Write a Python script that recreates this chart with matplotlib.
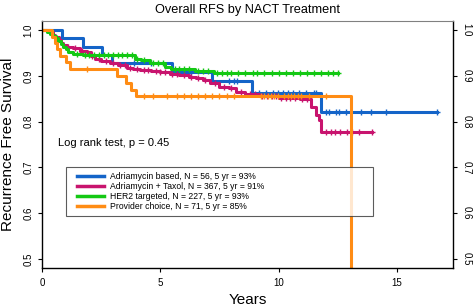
import numpy as np
import matplotlib.pyplot as plt
from matplotlib.legend_handler import HandlerLine2D
from matplotlib.lines import Line2D

plt.rcParams['font.family'] = ['Liberation Sans', 'DejaVu Sans']

# Kaplan-Meier step curves (time in years, survival)
blue_t = [0, 0.85, 1.73, 2.53, 2.95, 5.5, 7.2, 8.89, 11.79, 16.69]
blue_s = [1, 0.982, 0.964, 0.946, 0.928, 0.909, 0.889, 0.862, 0.821, 0.821]
blue_cens = [3.9, 4.6, 6.3, 7.9, 8.1, 8.25, 9.19, 9.47, 9.75, 9.96, 10.17, 10.38,
             10.59, 10.87, 11.15, 11.5, 11.6, 12.0, 12.14, 12.42, 12.56, 12.84,
             13.47, 13.89, 14.53, 16.69]

mag_t = [0, 0.35, 0.45, 0.55, 0.7, 0.8, 0.89, 1.05, 1.3, 1.6, 1.9, 2.05, 2.23, 2.5,
         2.87, 3.2, 3.58, 3.85, 4.13, 4.6, 4.97, 5.4, 5.8, 6.2, 6.5, 6.8, 7.08, 7.5,
         7.92, 8.2, 8.6, 9.19, 10.0, 10.9, 11.37, 11.58, 11.72, 11.79, 13.95]
mag_s = [1, 0.995, 0.99, 0.985, 0.978, 0.972, 0.967, 0.963, 0.96, 0.955, 0.952,
         0.944, 0.937, 0.933, 0.928, 0.923, 0.918, 0.915, 0.913, 0.911, 0.909,
         0.905, 0.902, 0.898, 0.895, 0.89, 0.884, 0.876, 0.873, 0.865, 0.86, 0.855,
         0.852, 0.849, 0.833, 0.815, 0.803, 0.778, 0.778]
mag_cens = [1.1, 1.4, 1.7, 2.1, 2.4, 2.7, 3.0, 3.3, 3.5, 3.7, 4.0, 4.3, 4.5, 4.8,
            5.0, 5.2, 5.5, 5.7, 6.0, 6.3, 6.6, 6.9, 7.3, 7.7, 8.0, 8.4, 8.8, 9.0,
            9.3, 9.5, 9.7, 9.9, 10.1, 10.3, 10.5, 10.7, 11.0, 11.2, 12.0, 12.2,
            12.4, 12.6, 12.9, 13.1, 13.4, 13.95]

grn_t = [0, 0.2, 0.35, 0.47, 0.58, 0.69, 0.8, 0.9, 1.0, 1.11, 1.32, 1.74, 2.57,
         3.92, 4.2, 4.55, 5.18, 5.47, 6.45, 7.29, 12.49]
grn_s = [1, 0.996, 0.992, 0.988, 0.982, 0.977, 0.97, 0.963, 0.958, 0.953, 0.948,
         0.946, 0.945, 0.938, 0.934, 0.929, 0.92, 0.914, 0.911, 0.907, 0.907]
grn_cens = [1.5, 1.8, 2.0, 2.2, 2.4, 2.6, 2.8, 3.0, 3.2, 3.4, 3.6, 3.8, 4.0, 4.3,
            4.7, 4.9, 5.1, 5.6, 5.8, 6.0, 6.2, 6.6, 6.8, 7.0, 7.4, 7.6, 7.8, 8.0,
            8.3, 8.6, 8.9, 9.1, 9.4, 9.7, 10.0, 10.3, 10.6, 10.9, 11.2, 11.5,
            11.8, 12.1, 12.3, 12.49]

org_t = [0, 0.41, 0.55, 0.62, 0.76, 1.0, 1.18, 3.15, 3.57, 3.78, 3.99, 13.05]
org_s = [1, 0.986, 0.972, 0.958, 0.944, 0.93, 0.915, 0.899, 0.884, 0.869, 0.855, 0.0]
org_cens = [1.9, 4.3, 4.7, 5.3, 5.7, 6.0, 6.3, 6.6, 6.9, 7.2, 7.5, 7.8, 8.1,
            9.26, 9.4, 9.54, 9.68, 9.82, 9.96, 10.24, 10.38, 10.52, 10.66, 10.8,
            10.94, 11.29, 12.0]

labels = ['Adriamycin based, N = 56, 5 yr = 93%',
          'Adriamycin + Taxol, N = 367, 5 yr = 91%',
          'HER2 targeted, N = 227, 5 yr = 93%',
          'Provider choice, N = 71, 5 yr = 85%']
colors = ['#1464c8', '#c8146e', '#14c814', '#ff8c14']
curves = [(blue_t, blue_s, blue_cens), (mag_t, mag_s, mag_cens),
          (grn_t, grn_s, grn_cens), (org_t, org_s, org_cens)]

fig = plt.figure(figsize=(4.73, 3.07), dpi=100)
ax = fig.add_axes([0.0888, 0.127, 0.8689, 0.8046])

for (t, s, c), col, lab in zip(curves, colors, labels):
    ax.step(t, s, where='post', color=col, lw=2.2, label=lab)
    t = np.array(t)
    s = np.array(s)
    idx = np.searchsorted(t, c, side='right') - 1
    ax.plot(c, s[idx], ls='none', marker='+', ms=4.5, mew=1.0, color=col)

ax.set_xlim(0, 17.37)
ax.set_ylim(0.48, 1.02)
ax.set_xticks([0, 5, 10, 15])
ax.set_yticks([0.5, 0.6, 0.7, 0.8, 0.9, 1.0])
ax.tick_params(axis='both', labelsize=7, length=3, width=0.8)
ax.tick_params(axis='x', pad=4.5)
ax.tick_params(axis='y', right=True, labelright=True, pad=3)
for tick in ax.yaxis.get_major_ticks():
    tick.label1.set_rotation(90)
    tick.label1.set_va('center')
    tick.label2.set_rotation(270)
    tick.label2.set_va('center')
ax.spines['top'].set_color('#808080')
for sp in ['left', 'bottom', 'right']:
    ax.spines[sp].set_linewidth(1.0)

ax.set_title('Overall RFS by NACT Treatment', fontsize=9.2, pad=6)
ax.set_xlabel('Years', fontsize=11, labelpad=3)
ax.set_ylabel('Recurrence Free Survival', fontsize=11)
ax.yaxis.set_label_coords(-0.066, 0.5)

ax.text(0.039, 0.505, 'Log rank test, p = 0.45', transform=ax.transAxes,
        fontsize=8, va='center')

leg = ax.legend(loc='upper left', bbox_to_anchor=(0.058, 0.21, 0.747, 0.199),
                mode='expand', fontsize=6.2, frameon=True, fancybox=False,
                handlelength=3.84, handletextpad=0.7, labelspacing=0.12,
                borderpad=0.55, borderaxespad=0,
                handler_map={Line2D: HandlerLine2D(xpad=0.7)})
leg.get_frame().set_edgecolor('#333333')
leg.get_frame().set_linewidth(0.8)
for h in leg.get_lines():
    h.set_linewidth(2.5)

fig.savefig('out.png', dpi=100)
